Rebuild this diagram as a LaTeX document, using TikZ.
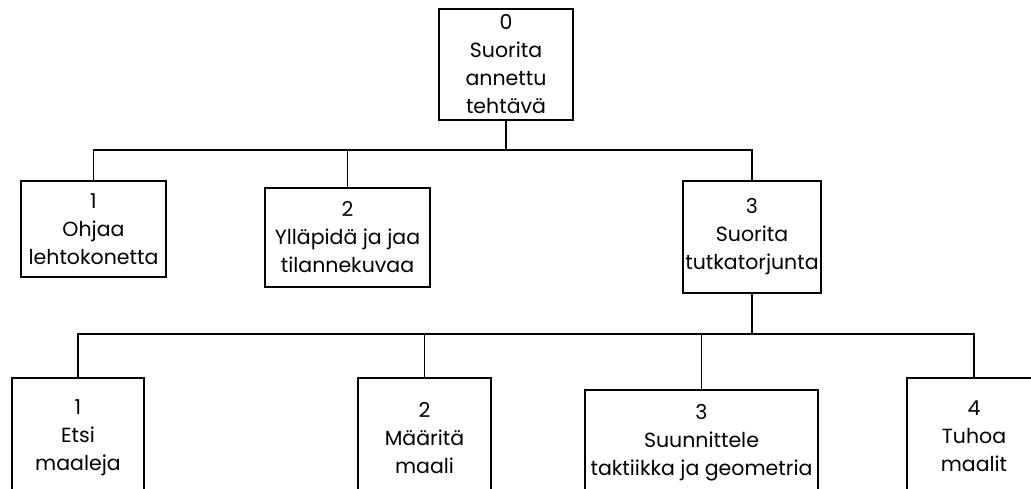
\documentclass[tikz,border=0pt]{standalone}
\usepackage{fontspec}
\setmainfont{Poppins}
\usepackage{tikz}
\tikzstyle{task}=[rectangle,draw=black,line width=1.8pt,align=center,
font=\fontsize{20.5}{28}\selectfont,inner sep=2pt]
\tikzstyle{link}=[line width=1.8pt]
\usetikzlibrary{positioning}

\begin{document}
\begin{tikzpicture}[x=1pt,y=1pt]
            \useasboundingbox (0,0) rectangle (1031,488);
            \clip (0,0) rectangle (1031,488);

            % TOP PART

            \node[task,minimum width=134pt,minimum height=111pt] (t0) at (506,423.5) {0\\Suorita\\annettu\\teht\"av\"a};

            % FIRST LEVEL

            \node[task,minimum width=145pt,minimum height=96pt] (a1) at (93.5,259) {1\\Ohjaa\\lehtokonetta};
            \node[task,minimum width=165pt,minimum height=99pt] (a2) at (347.5,250.5) {2\\Yll\"apid\"a ja jaa\\tilannekuvaa};
            \node[task,minimum width=132pt,minimum height=112pt] (a3) at (752,251) {3\\Suorita\\tutkatorjunta};

            \coordinate (bus0) at (506,338);

            \draw[link] (t0) -- (bus0);
            \draw[link] (a1.north) |- (bus0) -| (a3.north);
            \draw[link] (a2.north) -- (a2.north |- bus0);

            % SECOND LEVEL

            \node[task,minimum width=132pt,minimum height=120pt,anchor=north] (b1) at (78,111) {1\\Etsi\\maaleja};
            \node[task,minimum width=133pt,minimum height=120pt,anchor=north] (b2) at (424.5,111) {2\\M\"a\"arit\"a\\maali};
            \node[task,minimum width=233pt,minimum height=106pt,anchor=north] (b3) at (701.5,99) {3\\Suunnittele\\taktiikka ja geometria};
            \node[task,minimum width=134pt,minimum height=116pt,anchor=north] (b4) at (974,111) {4\\Tuhoa\\maalit};

            \coordinate (bus1) at (752,154);

            \draw[link] (a3) -- (bus1);
            \draw[link] (b1.north) |- (bus1) -| (b4.north);
            \draw[link] (b2.north) -- (b2.north |- bus1);
            \draw[link] (b3.north) -- (b3.north |- bus1);

\end{tikzpicture}
\end{document}
